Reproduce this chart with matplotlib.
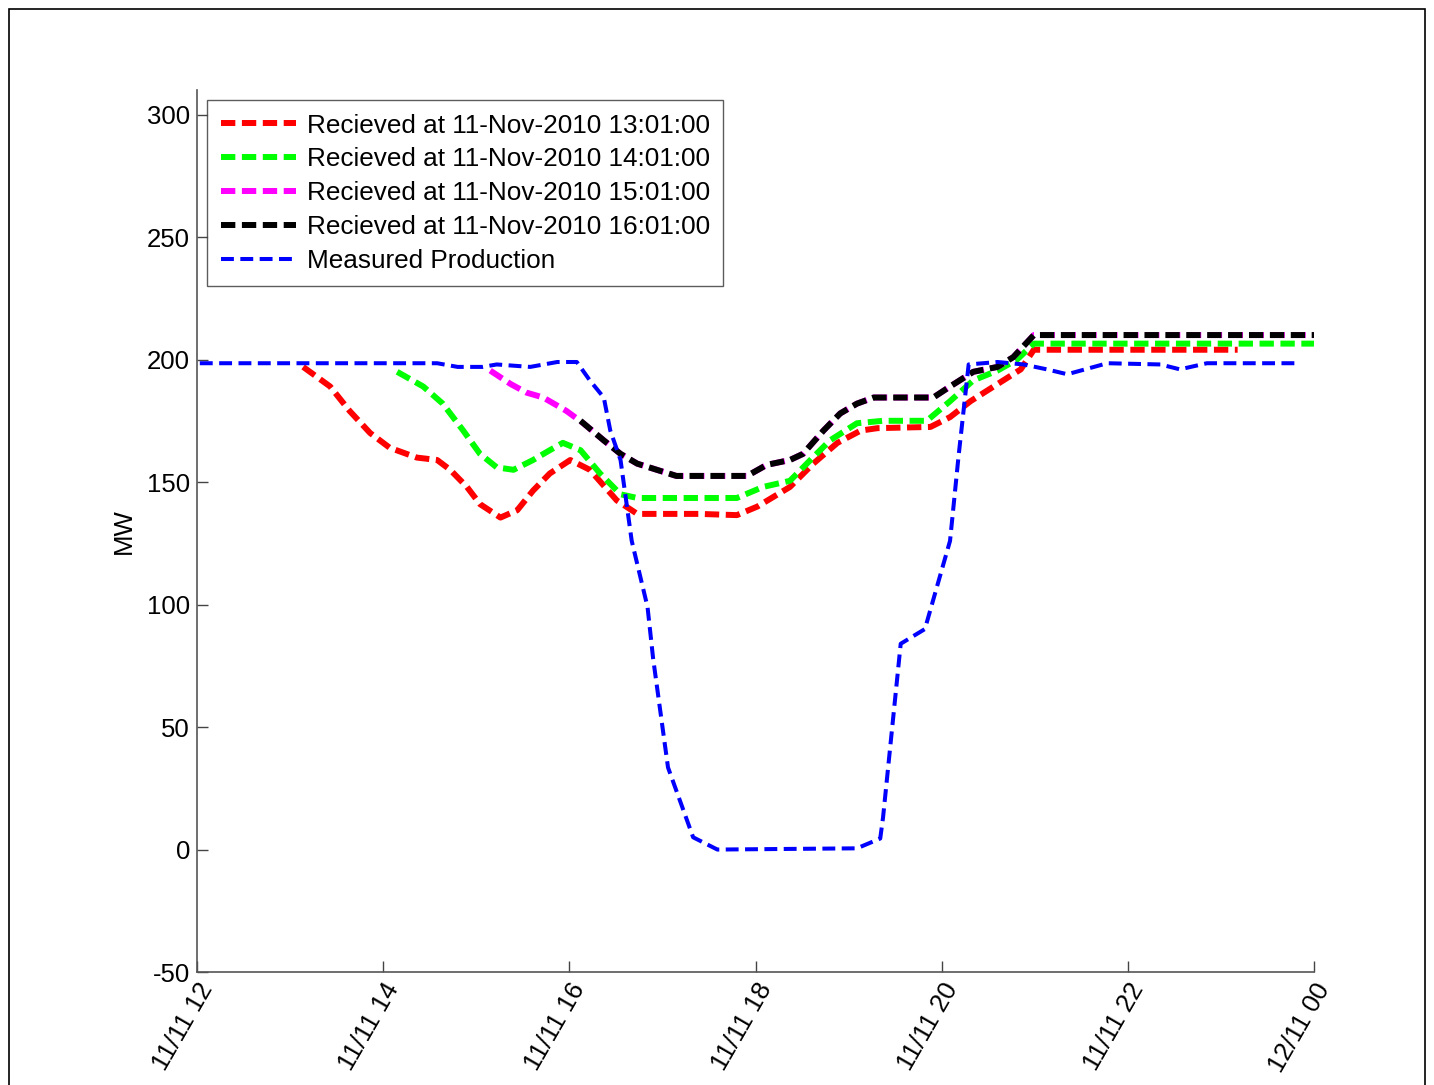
import numpy as np
import matplotlib
matplotlib.use("Agg")
import matplotlib.pyplot as plt
from matplotlib.patches import Rectangle

plt.rcParams['font.family'] = ['Liberation Sans', 'DejaVu Sans']
plt.rcParams['axes.unicode_minus'] = False

# hours after 11/11 00:00, values in MW
t_13 = [13.14, 13.43, 13.64, 13.86, 14.07, 14.36, 14.58, 14.72, 14.90, 15.04, 15.26, 15.44,
        15.61, 15.79, 16.01, 16.22, 16.51, 16.73, 17.01, 17.40, 17.80, 18.02, 18.37, 18.62,
        18.88, 19.13, 19.31, 19.88, 20.09, 20.31, 20.60, 20.85, 20.99, 23.18]
p_13 = [197, 189, 179, 170, 164, 160, 159, 155, 148, 141, 135.5, 138.5,
        146.5, 153.5, 159, 155, 142.5, 137, 137, 137, 136.5, 140, 148, 157.5,
        166, 171, 172, 172.5, 176.5, 183, 190, 196, 204, 204]

t_14 = [14.15, 14.43, 14.64, 14.86, 15.04, 15.22, 15.40, 15.61, 15.79, 15.93, 16.12, 16.33,
        16.55, 16.73, 17.20, 17.80, 18.08, 18.37, 18.59, 18.80, 19.09, 19.37, 19.84, 20.09,
        20.34, 20.60, 20.81, 20.99, 24.0]
p_14 = [195, 189, 182, 171, 161.5, 156, 155, 159, 163, 166, 163, 153.5,
        145, 143.5, 143.5, 143.5, 148, 150.5, 159, 167, 174, 175, 175, 183,
        191.5, 195.5, 200, 206.5, 206.5]

t_15 = [15.15, 15.37, 15.54, 15.72, 15.97, 16.15, 16.37, 16.55, 16.73, 16.94, 17.15, 17.91,
        18.12, 18.37, 18.51, 18.73, 18.91, 19.09, 19.27, 19.91, 20.09, 20.34, 20.60, 20.77,
        20.99, 24.0]
p_15 = [195.5, 190, 186.5, 184.5, 179, 174, 167, 161.5, 157.5, 155, 152.5, 152.5,
        157, 159, 161.5, 171, 178, 182, 184.5, 184.5, 189, 195, 197, 201,
        210, 210]

t_16 = [16.12, 16.37, 16.55, 16.73, 16.94, 17.15, 17.91, 18.12, 18.37, 18.51, 18.73, 18.91,
        19.09, 19.27, 19.91, 20.09, 20.34, 20.60, 20.77, 20.99, 24.0]
p_16 = [175, 167, 161.5, 157.5, 155, 152.5, 152.5, 157, 159, 161.5, 171, 178,
        182, 184.5, 184.5, 189, 195, 197, 201, 210, 210]

t_meas = [12.03, 14.58, 14.80, 15.07, 15.22, 15.58, 15.87, 16.08, 16.22, 16.37, 16.44, 16.55,
          16.67, 16.84, 16.90, 17.06, 17.33, 17.59, 19.09, 19.34, 19.37, 19.56, 19.82, 20.09,
          20.18, 20.29, 20.60, 20.88, 21.13, 21.35, 21.78, 22.35, 22.56, 22.85, 23.85]
p_meas = [198.5, 198.5, 197, 197, 198, 197, 199, 199, 191.5, 184.5, 171, 159,
          126, 99, 78, 33.5, 5, 0, 0.5, 4.5, 13, 84, 90, 126,
          160, 198, 199, 198, 196, 194, 198.5, 198, 196, 198.5, 198.5]

tick_hours = [12, 14, 16, 18, 20, 22, 24]
tick_labels = ['11/11 12', '11/11 14', '11/11 16', '11/11 18', '11/11 20', '11/11 22', '12/11 00']
labels = ['Recieved at 11-Nov-2010 13:01:00', 'Recieved at 11-Nov-2010 14:01:00',
          'Recieved at 11-Nov-2010 15:01:00', 'Recieved at 11-Nov-2010 16:01:00',
          'Measured Production']

fig = plt.figure(figsize=(14.34, 10.85), dpi=100)
ax = fig.add_axes([0.1374, 0.1041, 0.7789, 0.8129])

fc_dash = (2.4, 1.1)
ax.plot(t_13, p_13, color='#ff0000', lw=4.3, dashes=fc_dash, label=labels[0])
ax.plot(t_14, p_14, color='#00ff00', lw=4.3, dashes=fc_dash, label=labels[1])
ax.plot(t_15, p_15, color='#ff00ff', lw=4.3, dashes=fc_dash, label=labels[2])
ax.plot(t_16, p_16, color='#000000', lw=4.3, dashes=fc_dash, label=labels[3])
ax.plot(t_meas, p_meas, color='#0000ff', lw=2.9, dashes=(3.2, 1.6), label=labels[4])

ax.set_xlim(12, 24)
ax.set_ylim(-50, 310)
ax.set_yticks([-50, 0, 50, 100, 150, 200, 250, 300])
ax.set_xticks(tick_hours)
ax.set_xticklabels(tick_labels, rotation=60, ha='right', va='top', rotation_mode='anchor')
ax.tick_params(direction='in', length=8, width=1, colors='#444444', labelcolor='black',
               labelsize=18.5, pad=5)
for side in ['top', 'right']:
    ax.spines[side].set_visible(False)
for side in ['left', 'bottom']:
    ax.spines[side].set_color('#555555')
    ax.spines[side].set_linewidth(1.2)
ax.set_ylabel('MW', fontsize=18.5, labelpad=8)

leg = ax.legend(loc='upper left', fontsize=18.8, frameon=True, fancybox=False,
                edgecolor='#333333', handlelength=2.9, handletextpad=0.4,
                borderpad=0.5, labelspacing=0.38, borderaxespad=0.4)
leg.get_frame().set_linewidth(1.0)

fig.patches.append(Rectangle((9 / 1434, -0.01), (1425 - 9) / 1434, 1 + 0.01 - 9 / 1085,
                             transform=fig.transFigure, fill=False, edgecolor='black', lw=1.2))

fig.savefig('out.png', dpi=100, facecolor='white')
